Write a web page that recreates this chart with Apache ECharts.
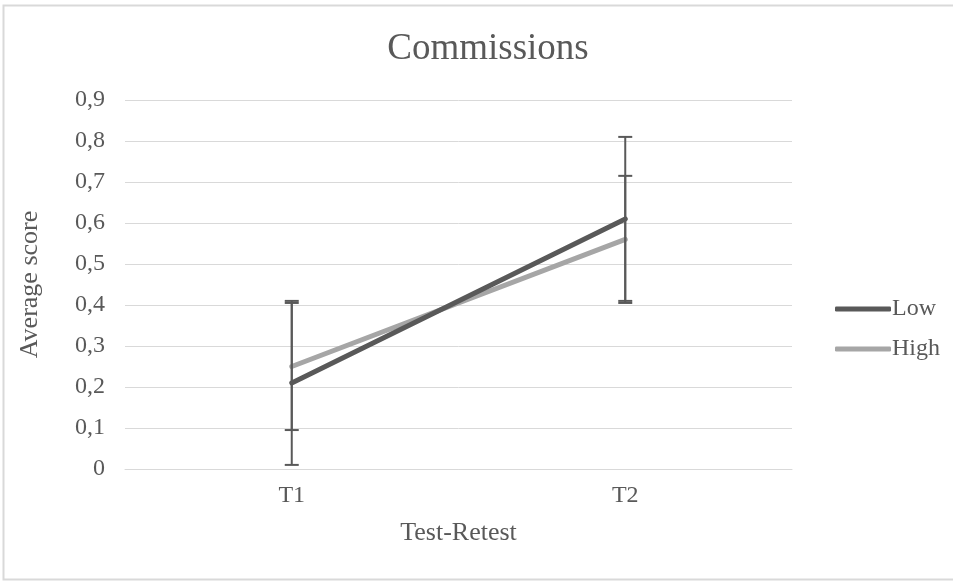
<!DOCTYPE html>
<html>
<head>
<meta charset="utf-8">
<script src="https://cdn.jsdelivr.net/npm/echarts@6/dist/echarts.min.js"></script>
<style>
	html, body { margin: 0; padding: 0; background: #fff; }
	#chart { width: 953px; height: 581px; }
</style>
</head>
<body>
<div id="chart"></div>
<script>
	"use strict";

	// ______________ DATA
	var categories = ['T1', 'T2'];
	var lowMean = [0.21, 0.61];
	var lowErr = [0.2, 0.2];
	var highMean = [0.25, 0.56];
	var highErr = [0.155, 0.155];
	var seriesNames = ['Low', 'High'];

	var FONT = '"Liberation Serif", "Times New Roman", serif';
	var TEXT = '#595959';

	// error bar rows: [category index, lower, upper]
	function errRows(mean, err) {
		return mean.map(function(m, i) {
			return [i, m - err[i], m + err[i]];
		});
	}

	function renderErr(params, api) {
		var x = api.value(0);
		var lo = api.coord([x, api.value(1)]);
		var hi = api.coord([x, api.value(2)]);
		var half = 7;
		var style = { stroke: '#595959', lineWidth: 2 };
		return {
			type: 'group',
			children: [
				{ type: 'line', shape: { x1: hi[0], y1: hi[1], x2: lo[0], y2: lo[1] }, style: style },
				{ type: 'line', shape: { x1: hi[0] - half, y1: hi[1], x2: hi[0] + half, y2: hi[1] }, style: style },
				{ type: 'line', shape: { x1: lo[0] - half, y1: lo[1], x2: lo[0] + half, y2: lo[1] }, style: style }
			]
		};
	}

	var chart = echarts.init(document.getElementById('chart'));
	chart.setOption({
		animation: false,
		backgroundColor: '#fff',
		title: {
			text: 'Commissions',
			left: 483,
			textAlign: 'center',
			top: 26,
			textStyle: { fontFamily: FONT, fontSize: 37, fontWeight: 'normal', color: TEXT }
		},
		graphic: [{
			type: 'rect',
			shape: { x: 3.5, y: 5.5, width: 980, height: 574 },
			style: { fill: null, stroke: '#d9d9d9', lineWidth: 2 },
			silent: true
		}],
		legend: {
			orient: 'vertical',
			left: 830,
			top: 292,
			itemGap: 16,
			itemWidth: 56,
			itemHeight: 5,
			icon: 'roundRect',
			data: seriesNames,
			textStyle: { fontFamily: FONT, fontSize: 24, color: TEXT, padding: [0, 0, 0, -4] }
		},
		grid: { left: 125, right: 161, top: 100, bottom: 112 },
		xAxis: {
			type: 'category',
			data: categories,
			name: 'Test-Retest',
			nameLocation: 'middle',
			nameGap: 51,
			nameTextStyle: { fontFamily: FONT, fontSize: 26, color: TEXT },
			axisLine: { lineStyle: { color: '#d9d9d9', width: 1 } },
			axisTick: { show: false },
			axisLabel: { fontFamily: FONT, fontSize: 24, color: TEXT, margin: 15 }
		},
		yAxis: {
			type: 'value',
			min: 0,
			max: 0.9,
			interval: 0.1,
			name: 'Average score',
			nameLocation: 'middle',
			nameGap: 82,
			nameTextStyle: { fontFamily: FONT, fontSize: 26, color: TEXT },
			axisLine: { show: false },
			axisTick: { show: false },
			splitLine: { lineStyle: { color: '#d9d9d9', width: 1 } },
			axisLabel: {
				fontFamily: FONT, fontSize: 24, color: TEXT, margin: 20,
				formatter: function(v) { return String(Math.round(v * 10) / 10).replace('.', ','); }
			}
		},
		series: [{
			name: 'Low',
			type: 'line',
			data: lowMean,
			symbol: 'none',
			color: '#595959',
			lineStyle: { width: 5, color: '#595959', cap: 'round' },
			z: 3
		}, {
			name: 'High',
			type: 'line',
			data: highMean,
			symbol: 'none',
			color: '#a6a6a6',
			lineStyle: { width: 5, color: '#a6a6a6', cap: 'round' },
			z: 2
		}, {
			type: 'custom',
			renderItem: renderErr,
			data: errRows(lowMean, lowErr),
			encode: { x: 0, y: [1, 2] },
			z: 4
		}, {
			type: 'custom',
			renderItem: renderErr,
			data: errRows(highMean, highErr),
			encode: { x: 0, y: [1, 2] },
			z: 4
		}]
	});
</script>
</body>
</html>
